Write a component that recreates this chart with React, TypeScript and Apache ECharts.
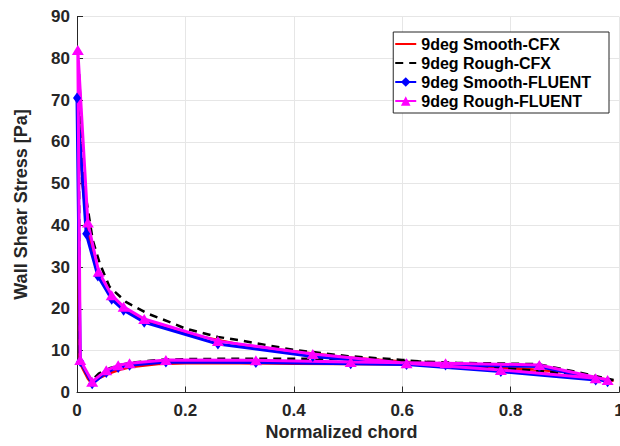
import React, { useEffect, useRef } from "react";
import * as echarts from "echarts";

const seriesNames = [
  "9deg Smooth-CFX",
  "9deg Rough-CFX",
  "9deg Smooth-FLUENT",
  "9deg Rough-FLUENT",
];

// Smooth CFX (red): upper surface TE -> LE, then lower surface LE -> TE
const smoothCfx: [number, number][] = [
  [0.99, 2.8], [0.9, 4.1], [0.8, 5.4], [0.7, 6.4], [0.6, 7.4], [0.5, 8.4],
  [0.4, 9.9], [0.3, 11.5], [0.26, 12.6], [0.2, 14.1], [0.15, 16.0], [0.12, 17.6],
  [0.1, 18.9], [0.08, 20.7], [0.06, 23.6], [0.04, 28.7], [0.02, 38.5], [0.01, 50],
  [0.002, 70],
  [0.004, 7.6], [0.01, 5.8], [0.02, 3.3], [0.028, 2.0], [0.04, 3.4], [0.06, 4.6],
  [0.08, 5.5], [0.1, 6.1], [0.15, 6.8], [0.2, 7.0], [0.3, 7.0], [0.4, 6.9],
  [0.5, 6.8], [0.6, 6.7], [0.7, 6.4], [0.8, 5.9], [0.9, 4.9], [0.99, 2.8],
];

// Rough CFX (black dashed)
const roughCfx: [number, number][] = [
  [0.99, 3.0], [0.9, 4.6], [0.8, 5.7], [0.7, 6.7], [0.6, 7.8], [0.5, 8.7],
  [0.4, 10.2], [0.3, 12.5], [0.26, 13.3], [0.2, 15.3], [0.17, 16.9], [0.13, 18.9],
  [0.09, 21.7], [0.06, 25.3], [0.042, 30.9], [0.029, 36.5], [0.015, 48], [0.003, 78],
  [0.005, 8.5], [0.015, 5.0], [0.028, 3.0], [0.04, 4.5], [0.06, 5.8], [0.08, 6.6],
  [0.1, 7.1], [0.15, 7.8], [0.2, 8.0], [0.3, 8.1], [0.4, 8.1], [0.5, 8.0],
  [0.6, 7.6], [0.7, 7.1], [0.8, 6.9], [0.85, 6.8], [0.9, 5.5], [0.99, 3.0],
];

// Smooth FLUENT (blue, diamonds)
const smoothFluent: [number, number][] = [
  [0.957, 3.0], [0.782, 5.0], [0.608, 6.7], [0.435, 8.6], [0.26, 11.6], [0.124, 16.8],
  [0.086, 19.7], [0.064, 22.3], [0.0385, 27.9], [0.017, 38.0], [0.0, 70.5],
  [0.006, 7.4], [0.028, 2.1], [0.054, 4.8], [0.076, 6.0], [0.097, 6.5], [0.164, 7.3],
  [0.33, 7.2], [0.505, 6.9], [0.68, 6.6], [0.853, 6.2], [0.979, 2.6],
];

// Rough FLUENT (magenta, triangles)
const roughFluent: [number, number][] = [
  [0.957, 3.4], [0.782, 5.4], [0.608, 7.0], [0.435, 9.2], [0.26, 12.3], [0.124, 17.6],
  [0.086, 20.5], [0.064, 23.3], [0.04, 28.9], [0.02, 40.7], [0.0015, 82],
  [0.006, 7.8], [0.028, 2.6], [0.054, 5.3], [0.076, 6.5], [0.097, 7.0], [0.164, 7.8],
  [0.33, 7.7], [0.505, 7.3], [0.68, 7.0], [0.853, 6.6], [0.979, 3.0],
];

const xAxisName = "Normalized chord";
const yAxisName = "Wall Shear Stress [Pa]";
const xRange = [0, 1, 0.2];
const yRange = [0, 90, 10];

const FONT = "'Liberation Sans', Arial, Helvetica, sans-serif";
const AXIS_COLOR = "#262626";

export default function App() {
  const ref = useRef<HTMLDivElement>(null);

  useEffect(() => {
    document.body.style.margin = "0";
    if (!ref.current) return;
    const chart = echarts.init(ref.current, undefined, { renderer: "svg" });

    const axisCommon = {
      nameLocation: "middle" as const,
      nameTextStyle: { fontFamily: FONT, fontWeight: "bold" as const, fontSize: 18, color: AXIS_COLOR },
      axisLine: { show: true, onZero: false, lineStyle: { color: AXIS_COLOR, width: 1 } },
      axisTick: { show: true, inside: true, length: 6, lineStyle: { color: AXIS_COLOR, width: 1 } },
      axisLabel: { fontFamily: FONT, fontWeight: "bold" as const, fontSize: 17, color: AXIS_COLOR },
      splitLine: { show: true, lineStyle: { color: "#e6e6e6", width: 1 } },
    };

    const hiddenSymbol = { itemStyle: { opacity: 0, color: "rgba(0,0,0,0)", borderWidth: 0 } };

    chart.setOption({
      animation: false,
      backgroundColor: "#ffffff",
      grid: { left: 77, right: 1, top: 16.5, bottom: 53.5, outerBoundsMode: "none" },
      xAxis: {
        ...axisCommon,
        type: "value",
        min: xRange[0],
        max: xRange[1],
        interval: xRange[2],
        name: xAxisName,
        nameGap: 30,
        nameTextStyle: { ...axisCommon.nameTextStyle, padding: [0, 13, 0, 0] },
        axisLabel: { ...axisCommon.axisLabel, margin: 9 },
      },
      yAxis: {
        ...axisCommon,
        type: "value",
        min: yRange[0],
        max: yRange[1],
        interval: yRange[2],
        name: yAxisName,
        nameGap: 47,
        axisLabel: { ...axisCommon.axisLabel, margin: 7 },
      },
      legend: {
        orient: "vertical",
        right: 11,
        top: 32,
        padding: [4, 18, 4, 1],
        itemWidth: 21,
        itemHeight: 12,
        itemGap: 3,
        backgroundColor: "#ffffff",
        borderColor: AXIS_COLOR,
        borderWidth: 1,
        borderRadius: 0,
        textStyle: { fontFamily: FONT, fontWeight: "bold", fontSize: 16, color: "#000" },
        data: [
          { name: seriesNames[0], ...hiddenSymbol },
          { name: seriesNames[1], ...hiddenSymbol },
          { name: seriesNames[2] },
          { name: seriesNames[3] },
        ],
      },
      series: [
        {
          name: seriesNames[0],
          type: "line",
          data: smoothCfx,
          symbol: "none",
          lineStyle: { color: "#ff0000", width: 2.5 },
          itemStyle: { color: "#ff0000" },
        },
        {
          name: seriesNames[1],
          type: "line",
          data: roughCfx,
          symbol: "none",
          lineStyle: { color: "#000000", width: 2.5, type: [8, 6] },
          itemStyle: { color: "#000000" },
        },
        {
          name: seriesNames[2],
          type: "line",
          data: smoothFluent,
          symbol: "diamond",
          symbolSize: [8, 11],
          showAllSymbol: true,
          lineStyle: { color: "#0000ff", width: 3 },
          itemStyle: { color: "#0000ff" },
        },
        {
          name: seriesNames[3],
          type: "line",
          data: roughFluent,
          symbol: "triangle",
          symbolSize: [12, 10],
          showAllSymbol: true,
          lineStyle: { color: "#ff00ff", width: 3 },
          itemStyle: { color: "#ff00ff" },
        },
      ],
    });

    return () => chart.dispose();
  }, []);

  return <div ref={ref} style={{ width: 620, height: 446 }} />;
}
